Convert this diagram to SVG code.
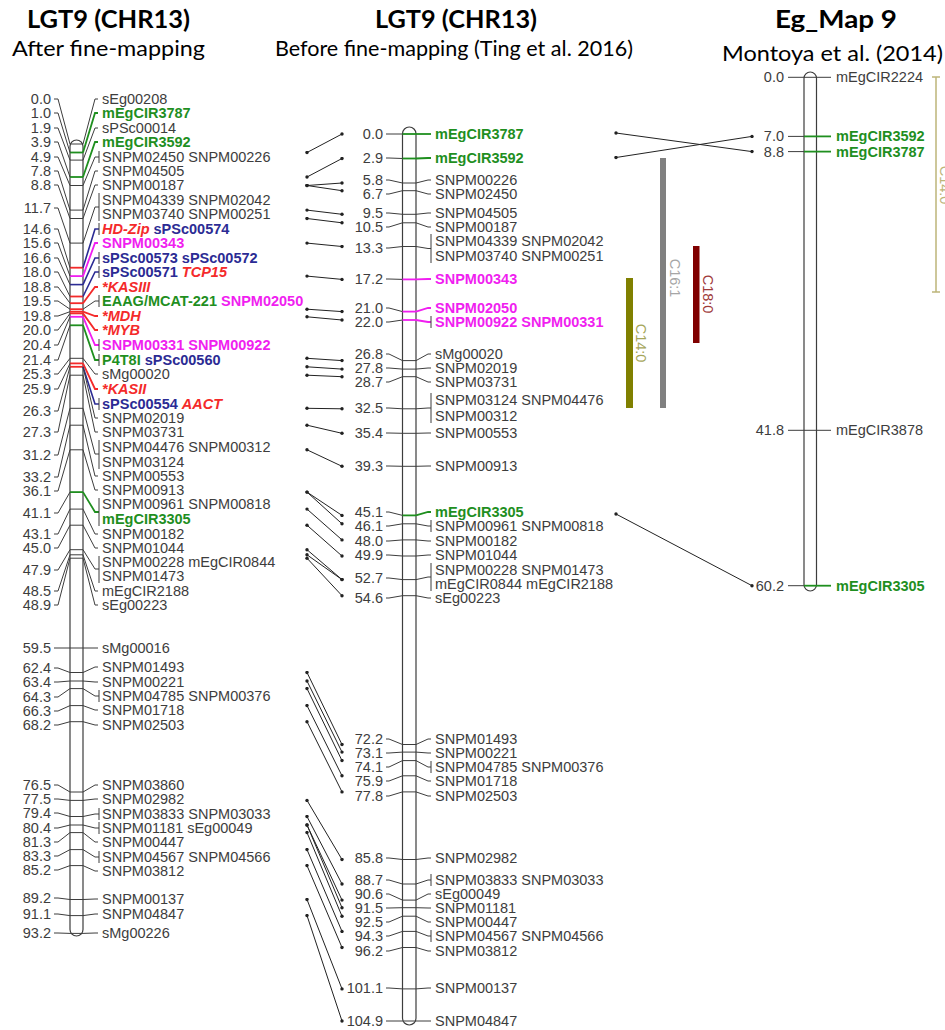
<svg xmlns="http://www.w3.org/2000/svg" width="945" height="1030" viewBox="0 0 945 1030">
<style>
.tx{font-family:"Liberation Sans",Arial,sans-serif;font-size:14.5px;fill:#3d3d3d}
.nm{text-anchor:end}
.bd{font-weight:bold}
.gr{fill:#1f8f1f}
.mg{fill:#f01ef0}
.bu{fill:#2b2b94}
.rd{fill:#f42a2a;font-style:italic;font-weight:bold}
.ln{fill:none;stroke:#3d3d3d;stroke-width:1}
.lg{fill:none;stroke:#1f8f1f;stroke-width:1.8}
.lm{fill:none;stroke:#f01ef0;stroke-width:1.8}
.lb{fill:none;stroke:#2b2b94;stroke-width:1.6}
.lr{fill:none;stroke:#f42a2a;stroke-width:1.8}
.bar{fill:#fff;stroke:#3d3d3d;stroke-width:1.2}
.cn{fill:none;stroke:#222;stroke-width:1;marker-start:url(#dot);marker-end:url(#dot)}
.ttl{font-family:Lato,"Liberation Sans",sans-serif;fill:#000}
.rot{font-family:"Liberation Sans",Arial,sans-serif;font-size:14.5px;text-anchor:middle}
</style>
<defs>
<marker id="dot" viewBox="-2 -2 4 4" markerWidth="4" markerHeight="4" refX="0" refY="0" markerUnits="userSpaceOnUse"><circle r="1.7" fill="#222"/></marker>
</defs>
<rect width="945" height="1030" fill="#fff"/>
<g id="titles">
<text class="ttl" x="27" y="28" font-size="24" font-weight="bold" textLength="163" lengthAdjust="spacingAndGlyphs">LGT9 (CHR13)</text>
<text class="ttl" x="12" y="56" font-size="21" textLength="193" lengthAdjust="spacingAndGlyphs">After fine-mapping</text>
<text class="ttl" x="375" y="28" font-size="24" font-weight="bold" textLength="162" lengthAdjust="spacingAndGlyphs">LGT9 (CHR13)</text>
<text class="ttl" x="275" y="56" font-size="21" textLength="358" lengthAdjust="spacingAndGlyphs">Before fine-mapping (Ting et al. 2016)</text>
<text class="ttl" x="775" y="28" font-size="24" font-weight="bold" textLength="122" lengthAdjust="spacingAndGlyphs">Eg_Map 9</text>
<text class="ttl" x="722" y="61" font-size="21" textLength="221" lengthAdjust="spacingAndGlyphs">Montoya et al. (2014)</text>
</g>

<g id="map-left">
<rect id="L-bar" class="bar" x="70" y="140" width="13" height="796" rx="6.5"/>
<g id="L00"><line class="ln" x1="70" y1="144" x2="83" y2="144"/><polyline class="ln" points="54,99 58,99 70,144"/><text class="tx nm" x="51" y="104">0.0</text><polyline class="ln" points="83,144 95,99 98,99"/><text class="tx" x="102" y="104">sEg00208</text></g>
<g id="L01"><line class="lg" x1="70" y1="152.5" x2="83" y2="152.5"/><polyline class="ln" points="54,113 58,113 70,152.5"/><text class="tx nm" x="51" y="118">1.0</text><polyline class="lg" points="83,152.5 95,113 98,113"/><text class="tx bd gr" x="102" y="118">mEgCIR3787</text></g>
<g id="L02"><line class="ln" x1="70" y1="160.1" x2="83" y2="160.1"/><polyline class="ln" points="54,128 58,128 70,160.1"/><text class="tx nm" x="51" y="133">1.9</text><polyline class="ln" points="83,160.1 95,128 98,128"/><text class="tx" x="102" y="133">sPSc00014</text></g>
<g id="L03"><line class="lg" x1="70" y1="177" x2="83" y2="177"/><polyline class="ln" points="54,142 58,142 70,177"/><text class="tx nm" x="51" y="147">3.9</text><polyline class="lg" points="83,177 95,142 98,142"/><text class="tx bd gr" x="102" y="147">mEgCIR3592</text></g>
<g id="L04"><line class="ln" x1="70" y1="185.5" x2="83" y2="185.5"/><polyline class="ln" points="54,157 58,157 70,185.5"/><text class="tx nm" x="51" y="162">4.9</text><polyline class="ln" points="83,185.5 95,157 99,157"/><line class="ln" x1="99" y1="151" x2="99" y2="163"/><text class="tx" x="102" y="162">SNPM02450 SNPM00226</text></g>
<g id="L05"><line class="ln" x1="70" y1="210.1" x2="83" y2="210.1"/><polyline class="ln" points="54,171 58,171 70,210.1"/><text class="tx nm" x="51" y="176">7.8</text><polyline class="ln" points="83,210.1 95,171 98,171"/><text class="tx" x="102" y="176">SNPM04505</text></g>
<g id="L06"><line class="ln" x1="70" y1="218.5" x2="83" y2="218.5"/><polyline class="ln" points="54,185 58,185 70,218.5"/><text class="tx nm" x="51" y="190">8.8</text><polyline class="ln" points="83,218.5 95,185 98,185"/><text class="tx" x="102" y="190">SNPM00187</text></g>
<g id="L07"><line class="ln" x1="70" y1="243.1" x2="83" y2="243.1"/><polyline class="ln" points="54,208 58,208 70,243.1"/><text class="tx nm" x="51" y="213">11.7</text><polyline class="ln" points="83,243.1 95,207 99,207"/><line class="ln" x1="99" y1="193" x2="99" y2="221"/><text class="tx" x="102" y="205">SNPM04339 SNPM02042</text><text class="tx" x="102" y="219">SNPM03740 SNPM00251</text></g>
<g id="L08"><line class="lr" x1="70" y1="267.7" x2="83" y2="267.7"/><polyline class="ln" points="54,229 58,229 70,267.7"/><text class="tx nm" x="51" y="234">14.6</text><polyline class="lb" points="83,267.7 95,229 99,229"/><line class="ln" x1="99" y1="223" x2="99" y2="235"/><text class="tx" x="102" y="234"><tspan class="rd">HD-Zip</tspan> <tspan class="bd bu">sPSc00574</tspan></text></g>
<g id="L09"><line class="lm" x1="70" y1="276.1" x2="83" y2="276.1"/><polyline class="ln" points="54,243 58,243 70,276.1"/><text class="tx nm" x="51" y="248">15.6</text><polyline class="lm" points="83,276.1 95,243 98,243"/><text class="tx bd mg" x="102" y="248">SNPM00343</text></g>
<g id="L10"><line class="lb" x1="70" y1="284.6" x2="83" y2="284.6"/><polyline class="ln" points="54,258 58,258 70,284.6"/><text class="tx nm" x="51" y="263">16.6</text><polyline class="lb" points="83,284.6 95,258 99,258"/><line class="ln" x1="99" y1="252" x2="99" y2="264"/><text class="tx bd bu" x="102" y="263">sPSc00573 sPSc00572</text></g>
<g id="L11"><line class="lr" x1="70" y1="296.5" x2="83" y2="296.5"/><polyline class="ln" points="54,272 58,272 70,296.5"/><text class="tx nm" x="51" y="277">18.0</text><polyline class="lb" points="83,296.5 95,272 99,272"/><line class="ln" x1="99" y1="266" x2="99" y2="278"/><text class="tx" x="102" y="277"><tspan class="bd bu">sPSc00571</tspan> <tspan class="rd">TCP15</tspan></text></g>
<g id="L12"><line class="lr" x1="70" y1="303.2" x2="83" y2="303.2"/><polyline class="ln" points="54,287 58,287 70,303.2"/><text class="tx nm" x="51" y="292">18.8</text><polyline class="lr" points="83,303.2 95,287 98,287"/><text class="tx rd" x="102" y="292">*KASIII</text></g>
<g id="L13"><line class="lr" x1="70" y1="309.2" x2="83" y2="309.2"/><polyline class="ln" points="54,301 58,301 70,309.2"/><text class="tx nm" x="51" y="306">19.5</text><polyline class="ln" points="83,309.2 95,301 99,301"/><line class="ln" x1="99" y1="295" x2="99" y2="307"/><text class="tx" x="102" y="306"><tspan class="bd gr">EAAG/MCAT-221</tspan> <tspan class="bd mg">SNPM02050</tspan></text></g>
<g id="L14"><line class="lr" x1="70" y1="311.7" x2="83" y2="311.7"/><polyline class="ln" points="54,316 58,316 70,311.7"/><text class="tx nm" x="51" y="321">19.8</text><polyline class="lr" points="83,311.7 95,316 98,316"/><text class="tx rd" x="102" y="321">*MDH</text></g>
<g id="L15"><line class="lr" x1="70" y1="313.4" x2="83" y2="313.4"/><polyline class="ln" points="54,330 58,330 70,313.4"/><text class="tx nm" x="51" y="335">20.0</text><polyline class="lr" points="83,313.4 95,330 98,330"/><text class="tx rd" x="102" y="335">*MYB</text></g>
<g id="L16"><line class="lm" x1="70" y1="316.8" x2="83" y2="316.8"/><polyline class="ln" points="54,345 58,345 70,316.8"/><text class="tx nm" x="51" y="350">20.4</text><polyline class="lm" points="83,316.8 95,345 99,345"/><line class="ln" x1="99" y1="339" x2="99" y2="351"/><text class="tx bd mg" x="102" y="350">SNPM00331 SNPM00922</text></g>
<g id="L17"><line class="lg" x1="70" y1="325.3" x2="83" y2="325.3"/><polyline class="ln" points="54,360 58,360 70,325.3"/><text class="tx nm" x="51" y="365">21.4</text><polyline class="lg" points="83,325.3 95,360 99,360"/><line class="ln" x1="99" y1="354" x2="99" y2="366"/><text class="tx" x="102" y="365"><tspan class="bd gr">P4T8I</tspan> <tspan class="bd bu">sPSc00560</tspan></text></g>
<g id="L18"><line class="ln" x1="70" y1="358.3" x2="83" y2="358.3"/><polyline class="ln" points="54,374 58,374 70,358.3"/><text class="tx nm" x="51" y="379">25.3</text><polyline class="ln" points="83,358.3 95,374 98,374"/><text class="tx" x="102" y="379">sMg00020</text></g>
<g id="L19"><line class="lr" x1="70" y1="363.4" x2="83" y2="363.4"/><polyline class="ln" points="54,389 58,389 70,363.4"/><text class="tx nm" x="51" y="394">25.9</text><polyline class="lr" points="83,363.4 95,389 98,389"/><text class="tx rd" x="102" y="394">*KASII</text></g>
<g id="L20"><line class="lr" x1="70" y1="366.8" x2="83" y2="366.8"/><polyline class="ln" points="54,411 58,411 70,366.8"/><text class="tx nm" x="51" y="416">26.3</text><polyline class="lb" points="83,366.8 95,404 99,404"/><line class="ln" x1="99" y1="398" x2="99" y2="410"/><text class="tx" x="102" y="409"><tspan class="bd bu">sPSc00554</tspan> <tspan class="rd">AACT</tspan></text><polyline class="ln" points="83,366.8 95,418 98,418"/><text class="tx" x="102" y="423">SNPM02019</text></g>
<g id="L21"><line class="ln" x1="70" y1="375.2" x2="83" y2="375.2"/><polyline class="ln" points="54,432 58,432 70,375.2"/><text class="tx nm" x="51" y="437">27.3</text><polyline class="ln" points="83,375.2 95,432 98,432"/><text class="tx" x="102" y="437">SNPM03731</text></g>
<g id="L22"><line class="ln" x1="70" y1="408.3" x2="83" y2="408.3"/><polyline class="ln" points="54,455 58,455 70,408.3"/><text class="tx nm" x="51" y="460">31.2</text><polyline class="ln" points="83,408.3 95,454 99,454"/><line class="ln" x1="99" y1="440" x2="99" y2="469"/><text class="tx" x="102" y="452">SNPM04476 SNPM00312</text><text class="tx" x="102" y="467">SNPM03124</text></g>
<g id="L23"><line class="ln" x1="70" y1="425.2" x2="83" y2="425.2"/><polyline class="ln" points="54,477 58,477 70,425.2"/><text class="tx nm" x="51" y="482">33.2</text><polyline class="ln" points="83,425.2 95,476 98,476"/><text class="tx" x="102" y="481">SNPM00553</text></g>
<g id="L24"><line class="ln" x1="70" y1="449.8" x2="83" y2="449.8"/><polyline class="ln" points="54,491 58,491 70,449.8"/><text class="tx nm" x="51" y="496">36.1</text><polyline class="ln" points="83,449.8 95,490 98,490"/><text class="tx" x="102" y="495">SNPM00913</text></g>
<g id="L25"><line class="lg" x1="70" y1="492.1" x2="83" y2="492.1"/><polyline class="ln" points="54,513 58,513 70,492.1"/><text class="tx nm" x="51" y="518">41.1</text><polyline class="lg" points="83,492.1 95,512 99,512"/><line class="ln" x1="99" y1="498" x2="99" y2="526"/><text class="tx" x="102" y="509">SNPM00961 SNPM00818</text><text class="tx bd gr" x="102" y="524">mEgCIR3305</text></g>
<g id="L26"><line class="ln" x1="70" y1="509.1" x2="83" y2="509.1"/><polyline class="ln" points="54,534 58,534 70,509.1"/><text class="tx nm" x="51" y="539">43.1</text><polyline class="ln" points="83,509.1 95,534 98,534"/><text class="tx" x="102" y="539">SNPM00182</text></g>
<g id="L27"><line class="ln" x1="70" y1="525.2" x2="83" y2="525.2"/><polyline class="ln" points="54,548 58,548 70,525.2"/><text class="tx nm" x="51" y="553">45.0</text><polyline class="ln" points="83,525.2 95,548 98,548"/><text class="tx" x="102" y="553">SNPM01044</text></g>
<g id="L28"><line class="ln" x1="70" y1="549.7" x2="83" y2="549.7"/><polyline class="ln" points="54,570 58,570 70,549.7"/><text class="tx nm" x="51" y="575">47.9</text><polyline class="ln" points="83,549.7 95,569 99,569"/><line class="ln" x1="99" y1="556" x2="99" y2="583"/><text class="tx" x="102" y="567">SNPM00228 mEgCIR0844</text><text class="tx" x="102" y="581">SNPM01473</text></g>
<g id="L29"><line class="ln" x1="70" y1="554.8" x2="83" y2="554.8"/><polyline class="ln" points="54,591 58,591 70,554.8"/><text class="tx nm" x="51" y="596">48.5</text><polyline class="ln" points="83,554.8 95,591 98,591"/><text class="tx" x="102" y="596">mEgCIR2188</text></g>
<g id="L30"><line class="ln" x1="70" y1="558.2" x2="83" y2="558.2"/><polyline class="ln" points="54,605 58,605 70,558.2"/><text class="tx nm" x="51" y="610">48.9</text><polyline class="ln" points="83,558.2 95,605 98,605"/><text class="tx" x="102" y="610">sEg00223</text></g>
<g id="L31"><line class="ln" x1="70" y1="648" x2="83" y2="648"/><polyline class="ln" points="54,648 58,648 70,648"/><text class="tx nm" x="51" y="653">59.5</text><polyline class="ln" points="83,648 95,648 98,648"/><text class="tx" x="102" y="653">sMg00016</text></g>
<g id="L32"><line class="ln" x1="70" y1="672.5" x2="83" y2="672.5"/><polyline class="ln" points="54,668 58,668 70,672.5"/><text class="tx nm" x="51" y="673">62.4</text><polyline class="ln" points="83,672.5 95,667 98,667"/><text class="tx" x="102" y="672">SNPM01493</text></g>
<g id="L33"><line class="ln" x1="70" y1="681" x2="83" y2="681"/><polyline class="ln" points="54,682 58,682 70,681"/><text class="tx nm" x="51" y="687">63.4</text><polyline class="ln" points="83,681 95,682 98,682"/><text class="tx" x="102" y="687">SNPM00221</text></g>
<g id="L34"><line class="ln" x1="70" y1="688.6" x2="83" y2="688.6"/><polyline class="ln" points="54,697 58,697 70,688.6"/><text class="tx nm" x="51" y="702">64.3</text><polyline class="ln" points="83,688.6 95,696 99,696"/><line class="ln" x1="99" y1="690" x2="99" y2="702"/><text class="tx" x="102" y="701">SNPM04785 SNPM00376</text></g>
<g id="L35"><line class="ln" x1="70" y1="705.6" x2="83" y2="705.6"/><polyline class="ln" points="54,711 58,711 70,705.6"/><text class="tx nm" x="51" y="716">66.3</text><polyline class="ln" points="83,705.6 95,710 98,710"/><text class="tx" x="102" y="715">SNPM01718</text></g>
<g id="L36"><line class="ln" x1="70" y1="721.7" x2="83" y2="721.7"/><polyline class="ln" points="54,725 58,725 70,721.7"/><text class="tx nm" x="51" y="730">68.2</text><polyline class="ln" points="83,721.7 95,725 98,725"/><text class="tx" x="102" y="730">SNPM02503</text></g>
<g id="L37"><line class="ln" x1="70" y1="792" x2="83" y2="792"/><polyline class="ln" points="54,785 58,785 70,792"/><text class="tx nm" x="51" y="790">76.5</text><polyline class="ln" points="83,792 95,785 98,785"/><text class="tx" x="102" y="790">SNPM03860</text></g>
<g id="L38"><line class="ln" x1="70" y1="800.4" x2="83" y2="800.4"/><polyline class="ln" points="54,799 58,799 70,800.4"/><text class="tx nm" x="51" y="804">77.5</text><polyline class="ln" points="83,800.4 95,799 98,799"/><text class="tx" x="102" y="804">SNPM02982</text></g>
<g id="L39"><line class="ln" x1="70" y1="816.5" x2="83" y2="816.5"/><polyline class="ln" points="54,813 58,813 70,816.5"/><text class="tx nm" x="51" y="818">79.4</text><polyline class="ln" points="83,816.5 95,814 99,814"/><line class="ln" x1="99" y1="808" x2="99" y2="820"/><text class="tx" x="102" y="819">SNPM03833 SNPM03033</text></g>
<g id="L40"><line class="ln" x1="70" y1="825" x2="83" y2="825"/><polyline class="ln" points="54,828 58,828 70,825"/><text class="tx nm" x="51" y="833">80.4</text><polyline class="ln" points="83,825 95,828 99,828"/><line class="ln" x1="99" y1="822" x2="99" y2="834"/><text class="tx" x="102" y="833">SNPM01181 sEg00049</text></g>
<g id="L41"><line class="ln" x1="70" y1="832.6" x2="83" y2="832.6"/><polyline class="ln" points="54,842 58,842 70,832.6"/><text class="tx nm" x="51" y="847">81.3</text><polyline class="ln" points="83,832.6 95,842 98,842"/><text class="tx" x="102" y="847">SNPM00447</text></g>
<g id="L42"><line class="ln" x1="70" y1="849.6" x2="83" y2="849.6"/><polyline class="ln" points="54,856 58,856 70,849.6"/><text class="tx nm" x="51" y="861">83.3</text><polyline class="ln" points="83,849.6 95,857 99,857"/><line class="ln" x1="99" y1="851" x2="99" y2="863"/><text class="tx" x="102" y="862">SNPM04567 SNPM04566</text></g>
<g id="L43"><line class="ln" x1="70" y1="865.6" x2="83" y2="865.6"/><polyline class="ln" points="54,870 58,870 70,865.6"/><text class="tx nm" x="51" y="875">85.2</text><polyline class="ln" points="83,865.6 95,871 98,871"/><text class="tx" x="102" y="876">SNPM03812</text></g>
<g id="L44"><line class="ln" x1="70" y1="899.5" x2="83" y2="899.5"/><polyline class="ln" points="54,898 58,898 70,899.5"/><text class="tx nm" x="51" y="903">89.2</text><polyline class="ln" points="83,899.5 95,899 98,899"/><text class="tx" x="102" y="904">SNPM00137</text></g>
<g id="L45"><line class="ln" x1="70" y1="915.6" x2="83" y2="915.6"/><polyline class="ln" points="54,914 58,914 70,915.6"/><text class="tx nm" x="51" y="919">91.1</text><polyline class="ln" points="83,915.6 95,914 98,914"/><text class="tx" x="102" y="919">SNPM04847</text></g>
<g id="L46"><line class="ln" x1="70" y1="933.4" x2="83" y2="933.4"/><polyline class="ln" points="54,933 58,933 70,933.4"/><text class="tx nm" x="51" y="938">93.2</text><polyline class="ln" points="83,933.4 95,933 98,933"/><text class="tx" x="102" y="938">sMg00226</text></g>
</g>

<g id="map-middle">
<rect id="M-bar" class="bar" x="402.5" y="127" width="13.5" height="898" rx="6.75"/>
<g id="M00"><polyline class="ln" points="386,134 389,134 402.5,134"/><line class="lg" x1="402.5" y1="134" x2="416" y2="134"/><polyline class="lg" points="416,134 428,134 431,134"/><text class="tx nm" x="383" y="139">0.0</text><text class="tx bd gr" x="435" y="139">mEgCIR3787</text></g>
<g id="M01"><polyline class="ln" points="386,158 389,158 402.5,158.5"/><line class="lg" x1="402.5" y1="158.5" x2="416" y2="158.5"/><polyline class="lg" points="416,158.5 428,158 431,158"/><text class="tx nm" x="383" y="163">2.9</text><text class="tx bd gr" x="435" y="163">mEgCIR3592</text></g>
<g id="M02"><polyline class="ln" points="386,180 389,180 402.5,183"/><line class="ln" x1="402.5" y1="183" x2="416" y2="183"/><polyline class="ln" points="416,183 428,180 431,180"/><text class="tx nm" x="383" y="185">5.8</text><text class="tx" x="435" y="185">SNPM00226</text></g>
<g id="M03"><polyline class="ln" points="386,194 389,194 402.5,190.7"/><line class="ln" x1="402.5" y1="190.7" x2="416" y2="190.7"/><polyline class="ln" points="416,190.7 428,194 431,194"/><text class="tx nm" x="383" y="199">6.7</text><text class="tx" x="435" y="199">SNPM02450</text></g>
<g id="M04"><polyline class="ln" points="386,213 389,213 402.5,214.3"/><line class="ln" x1="402.5" y1="214.3" x2="416" y2="214.3"/><polyline class="ln" points="416,214.3 428,213 431,213"/><text class="tx nm" x="383" y="218">9.5</text><text class="tx" x="435" y="218">SNPM04505</text></g>
<g id="M05"><polyline class="ln" points="386,227 389,227 402.5,222.8"/><line class="ln" x1="402.5" y1="222.8" x2="416" y2="222.8"/><polyline class="ln" points="416,222.8 428,227 431,227"/><text class="tx nm" x="383" y="232">10.5</text><text class="tx" x="435" y="232">SNPM00187</text></g>
<g id="M06"><polyline class="ln" points="386,248 389,248 402.5,246.5"/><line class="ln" x1="402.5" y1="246.5" x2="416" y2="246.5"/><polyline class="ln" points="416,246.5 428,248.5 431,248.5"/><line class="ln" x1="431" y1="234" x2="431" y2="263"/><text class="tx nm" x="383" y="253">13.3</text><text class="tx" x="435" y="246">SNPM04339 SNPM02042</text><text class="tx" x="435" y="261">SNPM03740 SNPM00251</text></g>
<g id="M07"><polyline class="ln" points="386,279 389,279 402.5,279.4"/><line class="lm" x1="402.5" y1="279.4" x2="416" y2="279.4"/><polyline class="lm" points="416,279.4 428,279 431,279"/><text class="tx nm" x="383" y="284">17.2</text><text class="tx bd mg" x="435" y="284">SNPM00343</text></g>
<g id="M08"><polyline class="ln" points="386,308 389,308 402.5,311.6"/><line class="lm" x1="402.5" y1="311.6" x2="416" y2="311.6"/><polyline class="lm" points="416,311.6 428,308 431,308"/><text class="tx nm" x="383" y="313">21.0</text><text class="tx bd mg" x="435" y="313">SNPM02050</text></g>
<g id="M09"><polyline class="ln" points="386,322 389,322 402.5,320"/><line class="lm" x1="402.5" y1="320" x2="416" y2="320"/><polyline class="lm" points="416,320 428,322 431,322"/><line class="ln" x1="431" y1="316" x2="431" y2="328"/><text class="tx nm" x="383" y="327">22.0</text><text class="tx bd mg" x="435" y="327">SNPM00922 SNPM00331</text></g>
<g id="M10"><polyline class="ln" points="386,354 389,354 402.5,360.6"/><line class="ln" x1="402.5" y1="360.6" x2="416" y2="360.6"/><polyline class="ln" points="416,360.6 428,354 431,354"/><text class="tx nm" x="383" y="359">26.8</text><text class="tx" x="435" y="359">sMg00020</text></g>
<g id="M11"><polyline class="ln" points="386,368 389,368 402.5,369.1"/><line class="ln" x1="402.5" y1="369.1" x2="416" y2="369.1"/><polyline class="ln" points="416,369.1 428,368 431,368"/><text class="tx nm" x="383" y="373">27.8</text><text class="tx" x="435" y="373">SNPM02019</text></g>
<g id="M12"><polyline class="ln" points="386,382 389,382 402.5,376.7"/><line class="ln" x1="402.5" y1="376.7" x2="416" y2="376.7"/><polyline class="ln" points="416,376.7 428,382 431,382"/><text class="tx nm" x="383" y="387">28.7</text><text class="tx" x="435" y="387">SNPM03731</text></g>
<g id="M13"><polyline class="ln" points="386,408 389,408 402.5,408.8"/><line class="ln" x1="402.5" y1="408.8" x2="416" y2="408.8"/><polyline class="ln" points="416,408.8 428,408 431,408"/><line class="ln" x1="431" y1="393" x2="431" y2="423"/><text class="tx nm" x="383" y="413">32.5</text><text class="tx" x="435" y="405">SNPM03124 SNPM04476</text><text class="tx" x="435" y="421">SNPM00312</text></g>
<g id="M14"><polyline class="ln" points="386,433 389,433 402.5,433.3"/><line class="ln" x1="402.5" y1="433.3" x2="416" y2="433.3"/><polyline class="ln" points="416,433.3 428,433 431,433"/><text class="tx nm" x="383" y="438">35.4</text><text class="tx" x="435" y="438">SNPM00553</text></g>
<g id="M15"><polyline class="ln" points="386,466 389,466 402.5,466.3"/><line class="ln" x1="402.5" y1="466.3" x2="416" y2="466.3"/><polyline class="ln" points="416,466.3 428,466 431,466"/><text class="tx nm" x="383" y="471">39.3</text><text class="tx" x="435" y="471">SNPM00913</text></g>
<g id="M16"><polyline class="ln" points="386,512 389,512 402.5,515.4"/><line class="lg" x1="402.5" y1="515.4" x2="416" y2="515.4"/><polyline class="lg" points="416,515.4 428,512 431,512"/><text class="tx nm" x="383" y="517">45.1</text><text class="tx bd gr" x="435" y="517">mEgCIR3305</text></g>
<g id="M17"><polyline class="ln" points="386,526 389,526 402.5,523.8"/><line class="ln" x1="402.5" y1="523.8" x2="416" y2="523.8"/><polyline class="ln" points="416,523.8 428,526 431,526"/><line class="ln" x1="431" y1="520" x2="431" y2="532"/><text class="tx nm" x="383" y="531">46.1</text><text class="tx" x="435" y="531">SNPM00961 SNPM00818</text></g>
<g id="M18"><polyline class="ln" points="386,541 389,541 402.5,539.9"/><line class="ln" x1="402.5" y1="539.9" x2="416" y2="539.9"/><polyline class="ln" points="416,539.9 428,541 431,541"/><text class="tx nm" x="383" y="546">48.0</text><text class="tx" x="435" y="546">SNPM00182</text></g>
<g id="M19"><polyline class="ln" points="386,555 389,555 402.5,556"/><line class="ln" x1="402.5" y1="556" x2="416" y2="556"/><polyline class="ln" points="416,556 428,555 431,555"/><text class="tx nm" x="383" y="560">49.9</text><text class="tx" x="435" y="560">SNPM01044</text></g>
<g id="M20"><polyline class="ln" points="386,578 389,578 402.5,579.6"/><line class="ln" x1="402.5" y1="579.6" x2="416" y2="579.6"/><polyline class="ln" points="416,579.6 428,577 431,577"/><line class="ln" x1="431" y1="563" x2="431" y2="591"/><text class="tx nm" x="383" y="583">52.7</text><text class="tx" x="435" y="575">SNPM00228 SNPM01473</text><text class="tx" x="435" y="589">mEgCIR0844 mEgCIR2188</text></g>
<g id="M21"><polyline class="ln" points="386,598 389,598 402.5,595.7"/><line class="ln" x1="402.5" y1="595.7" x2="416" y2="595.7"/><polyline class="ln" points="416,595.7 428,598 431,598"/><text class="tx nm" x="383" y="603">54.6</text><text class="tx" x="435" y="603">sEg00223</text></g>
<g id="M22"><polyline class="ln" points="386,739 389,739 402.5,744.5"/><line class="ln" x1="402.5" y1="744.5" x2="416" y2="744.5"/><polyline class="ln" points="416,744.5 428,739 431,739"/><text class="tx nm" x="383" y="744">72.2</text><text class="tx" x="435" y="744">SNPM01493</text></g>
<g id="M23"><polyline class="ln" points="386,753 389,753 402.5,752.1"/><line class="ln" x1="402.5" y1="752.1" x2="416" y2="752.1"/><polyline class="ln" points="416,752.1 428,753 431,753"/><text class="tx nm" x="383" y="758">73.1</text><text class="tx" x="435" y="758">SNPM00221</text></g>
<g id="M24"><polyline class="ln" points="386,767 389,767 402.5,760.6"/><line class="ln" x1="402.5" y1="760.6" x2="416" y2="760.6"/><polyline class="ln" points="416,760.6 428,767 431,767"/><line class="ln" x1="431" y1="761" x2="431" y2="773"/><text class="tx nm" x="383" y="772">74.1</text><text class="tx" x="435" y="772">SNPM04785 SNPM00376</text></g>
<g id="M25"><polyline class="ln" points="386,781 389,781 402.5,775.8"/><line class="ln" x1="402.5" y1="775.8" x2="416" y2="775.8"/><polyline class="ln" points="416,775.8 428,781 431,781"/><text class="tx nm" x="383" y="786">75.9</text><text class="tx" x="435" y="786">SNPM01718</text></g>
<g id="M26"><polyline class="ln" points="386,796 389,796 402.5,791.9"/><line class="ln" x1="402.5" y1="791.9" x2="416" y2="791.9"/><polyline class="ln" points="416,791.9 428,796 431,796"/><text class="tx nm" x="383" y="801">77.8</text><text class="tx" x="435" y="801">SNPM02503</text></g>
<g id="M27"><polyline class="ln" points="386,858 389,858 402.5,859.5"/><line class="ln" x1="402.5" y1="859.5" x2="416" y2="859.5"/><polyline class="ln" points="416,859.5 428,858 431,858"/><text class="tx nm" x="383" y="863">85.8</text><text class="tx" x="435" y="863">SNPM02982</text></g>
<g id="M28"><polyline class="ln" points="386,880 389,880 402.5,884"/><line class="ln" x1="402.5" y1="884" x2="416" y2="884"/><polyline class="ln" points="416,884 428,880 431,880"/><line class="ln" x1="431" y1="874" x2="431" y2="886"/><text class="tx nm" x="383" y="885">88.7</text><text class="tx" x="435" y="885">SNPM03833 SNPM03033</text></g>
<g id="M29"><polyline class="ln" points="386,894 389,894 402.5,900.1"/><line class="ln" x1="402.5" y1="900.1" x2="416" y2="900.1"/><polyline class="ln" points="416,900.1 428,894 431,894"/><text class="tx nm" x="383" y="899">90.6</text><text class="tx" x="435" y="899">sEg00049</text></g>
<g id="M30"><polyline class="ln" points="386,908 389,908 402.5,907.7"/><line class="ln" x1="402.5" y1="907.7" x2="416" y2="907.7"/><polyline class="ln" points="416,907.7 428,908 431,908"/><text class="tx nm" x="383" y="913">91.5</text><text class="tx" x="435" y="913">SNPM01181</text></g>
<g id="M31"><polyline class="ln" points="386,922 389,922 402.5,916.2"/><line class="ln" x1="402.5" y1="916.2" x2="416" y2="916.2"/><polyline class="ln" points="416,916.2 428,922 431,922"/><text class="tx nm" x="383" y="927">92.5</text><text class="tx" x="435" y="927">SNPM00447</text></g>
<g id="M32"><polyline class="ln" points="386,936 389,936 402.5,931.4"/><line class="ln" x1="402.5" y1="931.4" x2="416" y2="931.4"/><polyline class="ln" points="416,931.4 428,936 431,936"/><line class="ln" x1="431" y1="930" x2="431" y2="942"/><text class="tx nm" x="383" y="941">94.3</text><text class="tx" x="435" y="941">SNPM04567 SNPM04566</text></g>
<g id="M33"><polyline class="ln" points="386,951 389,951 402.5,947.5"/><line class="ln" x1="402.5" y1="947.5" x2="416" y2="947.5"/><polyline class="ln" points="416,947.5 428,951 431,951"/><text class="tx nm" x="383" y="956">96.2</text><text class="tx" x="435" y="956">SNPM03812</text></g>
<g id="M34"><polyline class="ln" points="386,988 389,988 402.5,988.9"/><line class="ln" x1="402.5" y1="988.9" x2="416" y2="988.9"/><polyline class="ln" points="416,988.9 428,988 431,988"/><text class="tx nm" x="383" y="993">101.1</text><text class="tx" x="435" y="993">SNPM00137</text></g>
<g id="M35"><polyline class="ln" points="386,1021 389,1021 402.5,1021"/><line class="ln" x1="402.5" y1="1021" x2="416" y2="1021"/><polyline class="ln" points="416,1021 428,1021 431,1021"/><text class="tx nm" x="383" y="1026">104.9</text><text class="tx" x="435" y="1026">SNPM04847</text></g>
</g>

<g id="map-right">
<rect id="R-bar" class="bar" x="804" y="72" width="12.5" height="519" rx="6.25"/>
<g id="R00"><line class="ln" x1="788" y1="77.3" x2="831" y2="77.3"/><text class="tx nm" x="784" y="82.3">0.0</text><text class="tx" x="836" y="82.3">mEgCIR2224</text></g>
<g id="R01"><line class="ln" x1="788" y1="136.4" x2="804" y2="136.4"/><line class="lg" x1="804" y1="136.4" x2="831" y2="136.4"/><text class="tx nm" x="784" y="141.4">7.0</text><text class="tx bd gr" x="836" y="141.4">mEgCIR3592</text></g>
<g id="R02"><line class="ln" x1="788" y1="151.6" x2="804" y2="151.6"/><line class="lg" x1="804" y1="151.6" x2="831" y2="151.6"/><text class="tx nm" x="784" y="156.6">8.8</text><text class="tx bd gr" x="836" y="156.6">mEgCIR3787</text></g>
<g id="R03"><line class="ln" x1="788" y1="430.3" x2="831" y2="430.3"/><text class="tx nm" x="784" y="435.3">41.8</text><text class="tx" x="836" y="435.3">mEgCIR3878</text></g>
<g id="R04"><line class="ln" x1="788" y1="585.7" x2="804" y2="585.7"/><line class="lg" x1="804" y1="585.7" x2="831" y2="585.7"/><text class="tx nm" x="784" y="590.7">60.2</text><text class="tx bd gr" x="836" y="590.7">mEgCIR3305</text></g>
</g>

<g id="qtl-bars">
<g id="C16_1"><rect x="660" y="158" width="6" height="250" fill="#808080"/><text class="rot" fill="#a6a6a6" transform="translate(670,278) rotate(90)">C16:1</text></g>
<g id="C18_0"><rect x="693" y="246" width="6.5" height="97" fill="#800000"/><text class="rot" fill="#a03a3a" transform="translate(703,294) rotate(90)">C18:0</text></g>
<g id="C14_0"><rect x="626" y="278" width="7" height="130" fill="#808000"/><text class="rot" fill="#a6a65a" transform="translate(636,343) rotate(90)">C14:0</text></g>
<g id="C14_0_right"><path d="M932,77H940M936,77V292M932,292H940" fill="none" stroke="#bdb57a" stroke-width="1.5"/><text class="rot" fill="#bdb57a" transform="translate(940,185) rotate(90)">C14:0</text></g>
</g>

<g id="connectors">
<line class="cn" x1="307" y1="152.5" x2="342" y2="134"/>
<line class="cn" x1="307" y1="177" x2="342" y2="158.5"/>
<line class="cn" x1="307" y1="185.5" x2="342" y2="183"/>
<line class="cn" x1="307" y1="185.5" x2="342" y2="190.7"/>
<line class="cn" x1="307" y1="210.1" x2="342" y2="214.3"/>
<line class="cn" x1="307" y1="218.5" x2="342" y2="222.8"/>
<line class="cn" x1="307" y1="243.1" x2="342" y2="246.5"/>
<line class="cn" x1="307" y1="276.1" x2="342" y2="279.4"/>
<line class="cn" x1="307" y1="309.2" x2="342" y2="311.6"/>
<line class="cn" x1="307" y1="316.8" x2="342" y2="320"/>
<line class="cn" x1="307" y1="358.3" x2="342" y2="360.6"/>
<line class="cn" x1="307" y1="366.8" x2="342" y2="369.1"/>
<line class="cn" x1="307" y1="375.2" x2="342" y2="376.7"/>
<line class="cn" x1="307" y1="408.3" x2="342" y2="408.8"/>
<line class="cn" x1="307" y1="425.2" x2="342" y2="433.3"/>
<line class="cn" x1="307" y1="449.8" x2="342" y2="466.3"/>
<line class="cn" x1="307" y1="492.1" x2="342" y2="515.4"/>
<line class="cn" x1="307" y1="492.1" x2="342" y2="523.8"/>
<line class="cn" x1="307" y1="509.1" x2="342" y2="539.9"/>
<line class="cn" x1="307" y1="525.2" x2="342" y2="556"/>
<line class="cn" x1="307" y1="549.7" x2="342" y2="579.6"/>
<line class="cn" x1="307" y1="554.8" x2="342" y2="579.6"/>
<line class="cn" x1="307" y1="558.2" x2="342" y2="595.7"/>
<line class="cn" x1="307" y1="672.5" x2="342" y2="744.5"/>
<line class="cn" x1="307" y1="681" x2="342" y2="752.1"/>
<line class="cn" x1="307" y1="688.6" x2="342" y2="760.6"/>
<line class="cn" x1="307" y1="705.6" x2="342" y2="775.8"/>
<line class="cn" x1="307" y1="721.7" x2="342" y2="791.9"/>
<line class="cn" x1="307" y1="800.4" x2="342" y2="859.5"/>
<line class="cn" x1="307" y1="816.5" x2="342" y2="884"/>
<line class="cn" x1="307" y1="825" x2="342" y2="900.1"/>
<line class="cn" x1="307" y1="825" x2="342" y2="907.7"/>
<line class="cn" x1="307" y1="832.6" x2="342" y2="916.2"/>
<line class="cn" x1="307" y1="849.6" x2="342" y2="931.4"/>
<line class="cn" x1="307" y1="865.6" x2="342" y2="947.5"/>
<line class="cn" x1="307" y1="899.5" x2="342" y2="988.9"/>
<line class="cn" x1="307" y1="915.6" x2="342" y2="1021"/>
<line class="cn" x1="616" y1="133" x2="752" y2="151.6"/>
<line class="cn" x1="616" y1="157.5" x2="752" y2="136.4"/>
<line class="cn" x1="616" y1="514" x2="752" y2="585.7"/>
</g>
</svg>
